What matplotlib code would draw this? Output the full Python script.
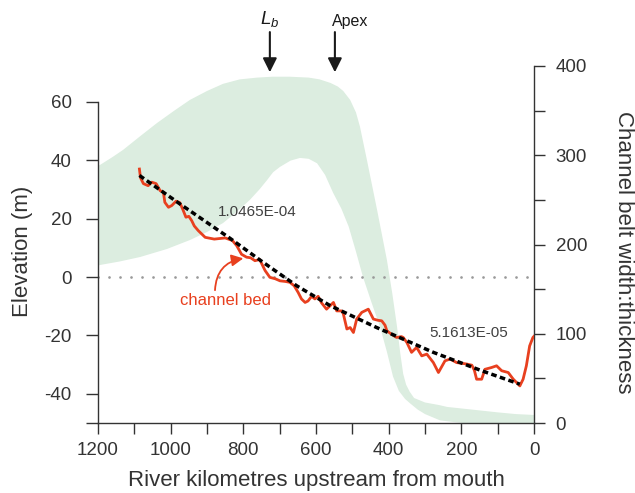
import matplotlib
matplotlib.use("Agg")
import matplotlib.pyplot as plt
from matplotlib.ticker import FixedLocator

plt.rcParams['font.family'] = ['Liberation Sans', 'DejaVu Sans']
plt.rcParams['mathtext.fontset'] = 'custom'
plt.rcParams['mathtext.it'] = 'Liberation Sans:italic'
plt.rcParams['mathtext.rm'] = 'Liberation Sans'
plt.rcParams['axes.unicode_minus'] = False

# ---- data ----
# channel belt width:thickness envelope (right axis)
band_upper_km = [1200, 1195, 1160, 1131, 1085, 1038, 990, 947, 900, 856, 810, 762, 720, 672,
                 620, 590, 560, 540, 525, 506, 490, 479, 460, 432, 405, 390, 377, 368, 360,
                 352, 342, 330, 300, 260, 239, 170, 102, 50, 0]
band_upper_val = [288, 289, 298, 306, 321, 336, 350, 362, 372, 380, 385, 387, 388, 388,
                  387, 385, 381, 377, 372, 362, 348, 332, 295, 239, 183, 145, 108, 78, 55,
                  43, 35, 28, 23, 20, 18, 15, 12, 10, 9]
band_lower_km = [1200, 1195, 1140, 1084, 1010, 947, 900, 856, 820, 782, 755, 735, 718, 699,
                 670, 644, 620, 597, 575, 553, 530, 510, 490, 471, 448, 424, 405, 388, 372,
                 355, 341, 320, 300, 259, 220, 195, 0]
band_lower_val = [176, 177, 181, 186, 195, 205, 214, 224, 236, 250, 262, 272, 281, 287,
                  294, 297, 296, 291, 278, 258, 240, 220, 192, 164, 136, 108, 80, 52, 36,
                  27, 22, 15, 10, 3, 1, 0, 0]

# channel bed elevation (left axis)
bed_km = [1086, 1083, 1075, 1062, 1052, 1040, 1029, 1020, 1016, 1006, 997, 985, 975, 967,
          958, 950, 942, 935, 924, 905, 880, 850, 830, 818, 805, 791, 780, 768, 755, 740,
          727, 712, 699, 685, 672, 660, 649, 640, 630, 622, 612, 603, 594, 585, 571, 561,
          552, 543, 530, 525, 515, 506, 497, 488, 474, 456, 442, 430, 419, 410, 405, 390,
          378, 365, 360, 350, 337, 323, 309, 295, 277, 263, 245, 231, 213, 185, 171, 164,
          158, 144, 135, 117, 103, 89, 71, 57, 45, 39, 30, 21, 12, 3, 0]
bed_elev = [37.0, 34.0, 32.0, 31.3, 32.5, 32.0, 29.6, 29.0, 25.6, 23.9, 24.5, 26.0, 25.5, 23.3,
            20.5, 20.8, 19.3, 17.5, 15.9, 13.6, 13.0, 13.4, 12.5, 10.7, 7.8, 6.8, 6.6, 5.6, 6.0, 2.2,
            -0.1, -0.6, -1.3, -1.5, -1.8, -3.0, -5.3, -7.5, -8.7, -8.2, -6.6, -7.5, -6.6, -8.8, -11.0, -9.8,
            -8.7, -11.6, -11.6, -12.5, -17.8, -17.3, -19.0, -14.4, -12.1, -11.0, -14.4, -14.8, -15.0, -16.5, -18.4, -19.8,
            -20.7, -20.4, -20.7, -22.4, -25.8, -24.1, -27.0, -26.4, -29.3, -32.7, -28.7, -28.1, -29.3, -29.8, -30.2, -32.0,
            -35.0, -35.0, -31.6, -31.0, -30.4, -32.1, -32.7, -35.0, -36.5, -37.3, -35.0, -30.4, -23.6, -20.7, -20.3]

# fitted profile (dashed)
fit_km = [1086, 974, 837, 745, 653, 561, 433, 277, 144, 39]
fit_elev = [34.8, 25.0, 13.3, 5.0, -3.0, -9.8, -17.3, -25.8, -32.1, -36.7]

x_major = [0, 200, 400, 600, 800, 1000, 1200]
x_minor = [100, 300, 500, 700, 900, 1100]
left_major = [-40, -20, 0, 20, 40, 60]
right_major = [0, 100, 200, 300, 400]
right_minor = [50, 150, 250, 350]

RED = '#e8401f'
GREEN = '#dcede0'
DARK = '#333333'

fig = plt.figure(figsize=(6.35, 4.93), dpi=100)
ax = fig.add_axes([98/635, 70/493, 436/635, 357/493])
ax2 = ax.twinx()

ax.set_xlim(1200, 0)
ax.set_ylim(-50, 72.3)
ax2.set_ylim(0, 400)

# band on right axis
poly_x = band_upper_km + band_lower_km[::-1]
poly_y = band_upper_val + band_lower_val[::-1]
ax2.fill(poly_x, poly_y, color=GREEN, lw=0, zorder=1)

ax.set_zorder(ax2.get_zorder() + 1)
ax.patch.set_visible(False)

ax.axhline(0, color='#9a9a9a', lw=2.0, ls=(0, (0.01, 3.95)), dash_capstyle='round', zorder=2)
ax.plot(bed_km, bed_elev, color=RED, lw=2.0, zorder=3, solid_joinstyle='round')
ax.plot(fit_km, fit_elev, color='black', lw=2.5, ls=(0, (1.6, 1.0)), zorder=4)

# spines
for a in (ax, ax2):
    a.spines['top'].set_visible(False)
ax.spines['right'].set_visible(False)
ax2.spines['left'].set_visible(False)
ax2.spines['bottom'].set_visible(False)
ax.spines['left'].set_bounds(-50, 60)
for s in (ax.spines['left'], ax.spines['bottom'], ax2.spines['right']):
    s.set_color(DARK)
    s.set_linewidth(1.0)

ax.xaxis.set_major_locator(FixedLocator(x_major))
ax.xaxis.set_minor_locator(FixedLocator(x_minor))
ax.yaxis.set_major_locator(FixedLocator(left_major))
ax.yaxis.set_minor_locator(FixedLocator([-50]))
ax2.yaxis.set_major_locator(FixedLocator(right_major))
ax2.yaxis.set_minor_locator(FixedLocator(right_minor))

ax.tick_params(axis='x', which='both', direction='out', length=8, width=1.0, color=DARK,
               labelsize=13.5, labelcolor=DARK, pad=6)
ax.tick_params(axis='y', which='both', direction='out', length=8.5, width=1.0, color=DARK,
               labelsize=13.5, labelcolor=DARK, pad=10.5)
ax2.tick_params(axis='y', which='both', direction='out', length=8, width=1.0, color=DARK,
                labelsize=13.5, labelcolor=DARK, pad=7.5)

ax.set_xlabel('River kilometres upstream from mouth', fontsize=16, color=DARK)
ax.xaxis.set_label_coords(0.5, -0.162)
ax.xaxis.label.set_va('center')
ax.set_ylabel('Elevation (m)', fontsize=16, color=DARK)
ax.yaxis.set_label_coords(-0.174, 0.482)
ax.yaxis.label.set_va('center')
ax2.set_ylabel('Channel belt width:thickness', fontsize=16, color=DARK, rotation=270)
ax2.yaxis.set_label_coords(1.206, 0.479)
ax2.yaxis.label.set_va('center')

# annotations
ax.text(761, 22.3, '1.0465E-04', fontsize=11, color='#404040', ha='center', va='center')
ax.text(179, -19.2, '5.1613E-05', fontsize=11, color='#404040', ha='center', va='center')
ax.text(850, -8.0, 'channel bed', fontsize=12, color=RED, ha='center', va='center')
ax.annotate('', xy=(800, 6.4), xytext=(878, -4.5),
            arrowprops=dict(arrowstyle='-|>,head_length=0.5,head_width=0.25', color=RED, lw=1.3,
                            connectionstyle='arc3,rad=-0.4', shrinkA=0, shrinkB=0, mutation_scale=14))

arrow_kw = dict(arrowstyle='-|>,head_length=0.6,head_width=0.3', color='#1a1a1a', lw=1.5,
                shrinkA=0, shrinkB=0, mutation_scale=14)
ax2.annotate('', xy=(727, 393), xytext=(727, 438), arrowprops=arrow_kw, annotation_clip=False)
ax2.annotate('', xy=(548, 393), xytext=(548, 438), arrowprops=arrow_kw, annotation_clip=False)
ax2.text(727, 441, '$L_b$', fontsize=13.5, color='#1a1a1a', ha='center', va='bottom', clip_on=False)
ax2.text(556, 441, 'Apex', fontsize=11.5, color='#1a1a1a', ha='left', va='bottom', clip_on=False)

fig.savefig('out.png', dpi=100)
